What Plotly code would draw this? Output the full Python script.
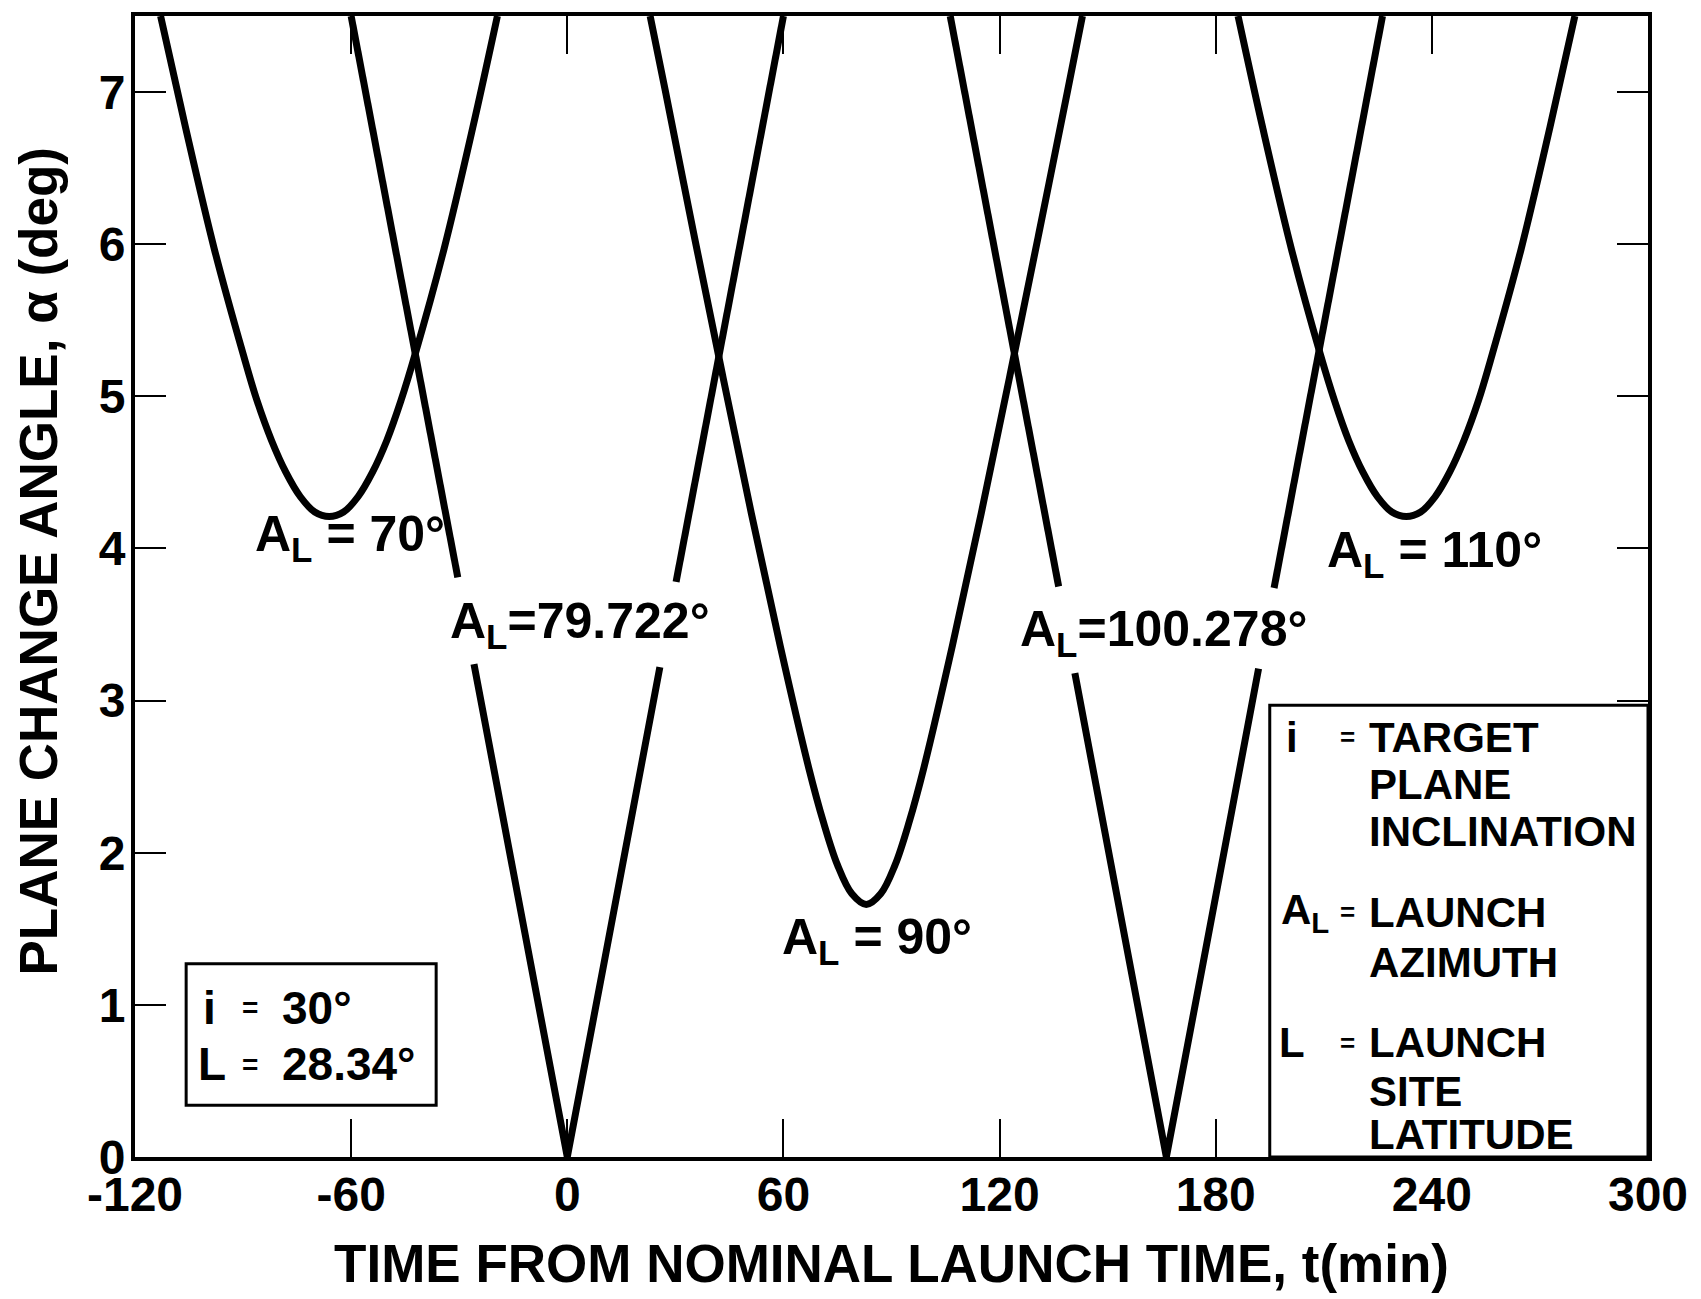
import plotly.graph_objects as go

# ---------------- data ----------------
# A_L = 70 deg
t_az70 = [-112.9, -106.0, -98.0, -90.0, -86.1, -82.1, -78.1, -74.1, -70.1, -66.1,
          -62.1, -58.1, -54.1, -50.1, -46.2, -42.2, -34.2, -26.2, -19.4]
a_az70 = [7.50, 6.77, 5.97, 5.28, 4.97, 4.71, 4.50, 4.34, 4.24, 4.21,
          4.24, 4.34, 4.50, 4.71, 4.97, 5.28, 5.97, 6.77, 7.50]

# A_L = 79.722 deg (line is broken where its label sits)
t_az79 = [-60, -50, -40, -30.4, None, -25.9, -20, -10, 0, 10, 20, 25.7, None, 30.2, 40, 50, 60]
a_az79 = [7.50, 6.26, 5.01, 3.81, None, 3.24, 2.51, 1.25, 0.0, 1.25, 2.51, 3.22, None, 3.78, 5.01, 6.26, 7.50]

# A_L = 90 deg
t_az90 = [23.0, 27.2, 35.1, 43.1, 51.1, 59.1, 67.0, 71.0, 75.0, 79.0, 83.0,
          87.0, 91.0, 95.0, 99.0, 106.9, 114.9, 122.9, 130.9, 138.9, 143.0]
a_az90 = [7.50, 7.01, 6.07, 5.14, 4.23, 3.36, 2.56, 2.21, 1.92, 1.73, 1.66,
          1.73, 1.92, 2.21, 2.56, 3.36, 4.23, 5.14, 6.07, 7.01, 7.50]

# A_L = 100.278 deg (line is broken where its label sits)
t_az100 = [106.3, 116.3, 126.3, 136.4, None, 140.9, 146.3, 156.3, 166.3, 176.3, 186.3, 191.9,
           None, 196.2, 206.3, 216.3, 226.3]
a_az100 = [7.50, 6.26, 5.01, 3.75, None, 3.18, 2.51, 1.25, 0.0, 1.25, 2.51, 3.21,
           None, 3.74, 5.01, 6.26, 7.50]

# A_L = 110 deg
t_az110 = [186.2, 193.0, 201.0, 209.0, 213.0, 216.9, 220.9, 224.9, 228.9, 232.9,
           236.9, 240.9, 244.9, 248.9, 252.9, 256.8, 264.8, 272.8, 279.7]
a_az110 = [7.50, 6.77, 5.97, 5.28, 4.97, 4.71, 4.50, 4.34, 4.24, 4.21,
           4.24, 4.34, 4.50, 4.71, 4.97, 5.28, 5.97, 6.77, 7.50]

x_tick_vals = [-120, -60, 0, 60, 120, 180, 240, 300]
x_tick_text = ["-120", "-60", "0", "60", "120", "180", "240", "300"]
y_tick_vals = [0, 1, 2, 3, 4, 5, 6, 7]
y_tick_text = ["0", "1", "2", "3", "4", "5", "6", "7"]

x_title = "TIME FROM NOMINAL LAUNCH TIME, t(min)"
y_title = "PLANE CHANGE ANGLE, α (deg)"

curve_labels = ["A<sub>L</sub> = 70°", "A<sub>L</sub>=79.722°", "A<sub>L</sub> = 90°",
                "A<sub>L</sub>=100.278°", "A<sub>L</sub> = 110°"]
curve_label_t = [-87.2, -33.1, 59.1, 125.1, 210.4]
curve_label_a = [4.07, 3.50, 1.42, 3.45, 3.97]

# definitions box (bottom right)
def_sym = ["i", "A<sub>L</sub>", "L"]
def_sym_a = [2.76, 1.61, 0.75]
def_words = ["TARGET", "PLANE", "INCLINATION", "LAUNCH", "AZIMUTH", "LAUNCH", "SITE", "LATITUDE"]
def_words_a = [2.76, 2.45, 2.14, 1.61, 1.28, 0.75, 0.43, 0.145]

# parameter box (bottom left)
par_sym = ["i", "L"]
par_val = ["30°", "28.34°"]
par_a = [0.98, 0.61]

# ---------------- figure ----------------
FONT = "Liberation Sans, Arial, sans-serif"
INK = "#000000"

fig = go.Figure()
curves = [(t_az70, a_az70, "spline"), (t_az79, a_az79, "linear"),
          (t_az90, a_az90, "spline"), (t_az100, a_az100, "linear"),
          (t_az110, a_az110, "spline")]
for t, a, shp in curves:
    fig.add_trace(go.Scatter(
        x=t, y=a, mode="lines", connectgaps=False,
        line=dict(color=INK, width=7, shape=shp, smoothing=1.0),
        showlegend=False, hoverinfo="skip"))

for txt, tx, ay in zip(curve_labels, curve_label_t, curve_label_a):
    fig.add_annotation(
        x=tx, y=ay, xref="x", yref="y", text=txt, showarrow=False,
        font=dict(family=FONT, size=50, color=INK, weight="bold"),
        xanchor="left", yanchor="middle")

# definitions box
fig.add_shape(type="rect", xref="x", yref="y", x0=195.0, x1=300, y0=0, y1=2.97,
              line=dict(color=INK, width=3), fillcolor="white", layer="above")
def_sym_t = [201.2, 197.6, 201.2]
def_sym_anchor = ["center", "left", "center"]
for s, ay, tx, anc in zip(def_sym, def_sym_a, def_sym_t, def_sym_anchor):
    fig.add_annotation(x=tx, y=ay, xref="x", yref="y", text=s, showarrow=False,
                       font=dict(family=FONT, size=42, color=INK, weight="bold"),
                       xanchor=anc, yanchor="middle")
    fig.add_annotation(x=216.5, y=ay, xref="x", yref="y", text="=", showarrow=False,
                       font=dict(family=FONT, size=26, color=INK, weight="bold"),
                       xanchor="center", yanchor="middle")
for w, ay in zip(def_words, def_words_a):
    fig.add_annotation(x=222.0, y=ay, xref="x", yref="y", text=w, showarrow=False,
                       font=dict(family=FONT, size=42, color=INK, weight="bold"),
                       xanchor="left", yanchor="middle")

# parameter box
fig.add_shape(type="rect", xref="x", yref="y", x0=-105.8, x1=-36.4, y0=0.34, y1=1.27,
              line=dict(color=INK, width=3), fillcolor="white", layer="above")
par_sym_t = [-99.2, -98.5]
for s, v, ay, tx in zip(par_sym, par_val, par_a, par_sym_t):
    fig.add_annotation(x=tx, y=ay, xref="x", yref="y", text=s, showarrow=False,
                       font=dict(family=FONT, size=46, color=INK, weight="bold"),
                       xanchor="center", yanchor="middle")
    fig.add_annotation(x=-88.1, y=ay, xref="x", yref="y", text="=", showarrow=False,
                       font=dict(family=FONT, size=28, color=INK, weight="bold"),
                       xanchor="center", yanchor="middle")
    fig.add_annotation(x=-79.7, y=ay, xref="x", yref="y", text=v, showarrow=False,
                       font=dict(family=FONT, size=46, color=INK, weight="bold"),
                       xanchor="left", yanchor="middle")

# y-axis title (placed slightly above centre, as in the original)
fig.add_annotation(x=-0.064, y=0.522, xref="paper", yref="paper", text=y_title,
                   textangle=-90, showarrow=False,
                   font=dict(family=FONT, size=53, color=INK, weight="bold"),
                   xanchor="center", yanchor="middle")

axis_common = dict(showgrid=False, zeroline=False, showline=True, linecolor=INK,
                   linewidth=4, mirror="ticks", ticks="inside", tickcolor=INK,
                   tickwidth=2,
                   tickfont=dict(family=FONT, size=48, color=INK, weight="bold"))
fig.update_xaxes(range=[-120, 300], tickmode="array", tickvals=x_tick_vals,
                 ticktext=x_tick_text, ticklen=38, ticklabelstandoff=-8,
                 title=dict(text=x_title, standoff=26,
                            font=dict(family=FONT, size=53, color=INK, weight="bold")),
                 **axis_common)
fig.update_yaxes(range=[0, 7.5], tickmode="array", tickvals=y_tick_vals,
                 ticktext=y_tick_text, ticklen=31, ticklabelstandoff=-4,
                 **axis_common)

fig.update_layout(width=1701, height=1299, autosize=False,
                  margin=dict(l=135, r=53, t=16, b=142),
                  paper_bgcolor="white", plot_bgcolor="white",
                  font=dict(family=FONT, color=INK))

fig.write_html("out.html")
